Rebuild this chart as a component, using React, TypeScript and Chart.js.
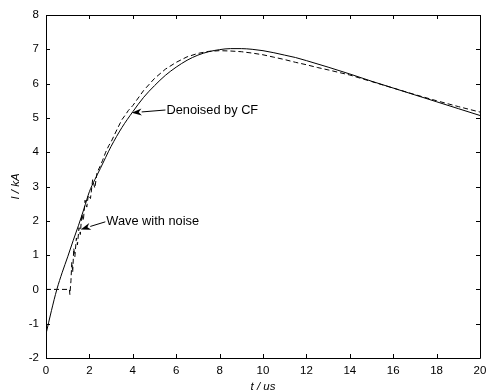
import { useEffect, useRef } from "react";
import { Chart, registerables } from "chart.js";

Chart.register(...registerables);

// Denoised current (solid)
const denoisedT = [0, 0.25, 0.5, 0.75, 1.0, 1.25, 1.5, 1.75, 2.0, 2.25, 2.5, 2.75, 3.0, 3.5, 4.0, 4.5, 5.0, 5.5, 6.0, 6.5, 7.0, 7.5, 8.0, 8.5, 9.0, 9.5, 10, 10.5, 11, 11.5, 12, 13, 14, 15, 16, 17, 18, 19, 20];
const denoisedI = [-1.3, -0.62, 0.0, 0.5, 0.95, 1.42, 1.87, 2.35, 2.85, 3.2, 3.52, 3.85, 4.17, 4.72, 5.18, 5.6, 5.94, 6.24, 6.48, 6.68, 6.83, 6.93, 6.99, 7.02, 7.02, 7.0, 6.96, 6.9, 6.83, 6.76, 6.67, 6.48, 6.28, 6.07, 5.87, 5.67, 5.47, 5.27, 5.07];

// Noisy wave (dashed)
const noisyT = [0, 0.5, 1.0, 1.08, 1.1, 1.15, 1.19, 1.23, 1.28, 1.33, 1.4, 1.45, 1.52, 1.58, 1.65, 1.72, 1.8, 1.88, 1.95, 2.05, 2.15, 2.25, 2.35, 2.5, 2.6, 2.75, 2.9, 3.0, 3.15, 3.3, 3.5, 3.65, 3.8, 4.0, 4.5, 5.0, 5.5, 6.0, 6.5, 7.0, 7.5, 8.0, 8.5, 9.0, 9.5, 10, 10.5, 11, 11.5, 12, 12.5, 13, 14, 15, 16, 17, 18, 19, 20];
const noisyI = [0, 0, 0, 0, -0.15, 0.25, 0.8, 0.5, 1.2, 0.95, 1.5, 1.3, 1.8, 1.6, 2.2, 2.0, 2.6, 2.4, 2.75, 2.65, 3.2, 2.95, 3.4, 3.6, 3.75, 4.0, 4.2, 4.3, 4.5, 4.7, 4.95, 5.08, 5.22, 5.36, 5.8, 6.15, 6.42, 6.62, 6.78, 6.88, 6.94, 6.96, 6.95, 6.93, 6.89, 6.84, 6.77, 6.7, 6.62, 6.55, 6.47, 6.4, 6.25, 6.06, 5.87, 5.68, 5.5, 5.33, 5.17];

// Axis settings
const xMin = 0;
const xMax = 20;
const xStep = 2;
const yMin = -2;
const yMax = 8;
const yStep = 1;
const xTitle = "t / us";
const yTitle = "I / kA";

// Annotations: label, text anchor (data), arrow tip (data)
const annotationLabels = ["Denoised by CF", "Wave with noise"];
const annotationTextT = [5.55, 2.78];
const annotationTextI = [5.23, 1.97];
const annotationTipT = [3.95, 1.6];
const annotationTipI = [5.15, 1.75];

const FONT = "'Liberation Sans', Arial, Helvetica, sans-serif";

const boxPlugin = {
  id: "matlabBox",
  afterDraw(chart: any) {
    const { ctx, chartArea, scales } = chart;
    const { left, right, top, bottom } = chartArea;
    ctx.save();
    ctx.strokeStyle = "#000";
    ctx.lineWidth = 1;
    ctx.setLineDash([]);
    ctx.beginPath();
    ctx.rect(Math.round(left) + 0.5, Math.round(top) + 0.5, Math.round(right - left), Math.round(bottom - top));
    ctx.stroke();
    const tl = 4;
    ctx.beginPath();
    for (const t of scales.x.ticks) {
      const px = Math.round(scales.x.getPixelForValue(t.value)) + 0.5;
      ctx.moveTo(px, bottom);
      ctx.lineTo(px, bottom - tl);
      ctx.moveTo(px, top);
      ctx.lineTo(px, top + tl);
    }
    for (const t of scales.y.ticks) {
      const py = Math.round(scales.y.getPixelForValue(t.value)) + 0.5;
      ctx.moveTo(left, py);
      ctx.lineTo(left + tl, py);
      ctx.moveTo(right, py);
      ctx.lineTo(right - tl, py);
    }
    ctx.stroke();

    // annotations
    ctx.font = `12.8px ${FONT}`;
    ctx.fillStyle = "#000";
    ctx.textAlign = "left";
    ctx.textBaseline = "middle";
    for (let i = 0; i < annotationLabels.length; i++) {
      const tx = scales.x.getPixelForValue(annotationTextT[i]);
      const ty = scales.y.getPixelForValue(annotationTextI[i]);
      const ax = scales.x.getPixelForValue(annotationTipT[i]);
      const ay = scales.y.getPixelForValue(annotationTipI[i]);
      ctx.fillText(annotationLabels[i], tx, ty);
      const sx = tx - 1;
      const sy = ty;
      const ang = Math.atan2(ay - sy, ax - sx);
      const len = 10;
      const hw = 3.5;
      const bx = ax - Math.cos(ang) * len;
      const by = ay - Math.sin(ang) * len;
      ctx.beginPath();
      ctx.moveTo(sx, sy);
      ctx.lineTo(bx, by);
      ctx.stroke();
      const nx = -Math.sin(ang);
      const ny = Math.cos(ang);
      const mx = ax - Math.cos(ang) * len * 0.7;
      const my = ay - Math.sin(ang) * len * 0.7;
      ctx.beginPath();
      ctx.moveTo(ax, ay);
      ctx.lineTo(bx + nx * hw, by + ny * hw);
      ctx.lineTo(mx, my);
      ctx.lineTo(bx - nx * hw, by - ny * hw);
      ctx.closePath();
      ctx.fill();
    }
    ctx.restore();
  },
};

export default function App() {
  const ref = useRef<HTMLCanvasElement | null>(null);
  useEffect(() => {
    if (!ref.current) return;
    const chart = new Chart(ref.current, {
      type: "line",
      data: {
        datasets: [
          {
            label: "Denoised by CF",
            data: denoisedT.map((t, i) => ({ x: t, y: denoisedI[i] })),
            borderColor: "#000",
            borderWidth: 1,
            pointRadius: 0,
            cubicInterpolationMode: "monotone",
            fill: false,
          },
          {
            label: "Wave with noise",
            data: noisyT.map((t, i) => ({ x: t, y: noisyI[i] })),
            borderColor: "#000",
            borderWidth: 1,
            borderDash: [5, 3],
            pointRadius: 0,
            tension: 0,
            fill: false,
          },
        ],
      },
      options: {
        responsive: false,
        animation: false,
        devicePixelRatio: 1,
        layout: { padding: { left: 0, top: 15, right: 6, bottom: 0 } },
        plugins: { legend: { display: false }, tooltip: { enabled: false } },
        scales: {
          x: {
            type: "linear",
            min: xMin,
            max: xMax,
            grid: { display: false, drawTicks: false },
            border: { display: false },
            ticks: {
              stepSize: xStep,
              padding: 6,
              color: "#000",
              maxRotation: 0,
              autoSkip: false,
              font: { family: FONT, size: 11.5 },
            },
            title: {
              display: true,
              text: xTitle,
              color: "#000",
              padding: { top: 0, bottom: -2 },
              font: { family: FONT, size: 11.5, style: "italic" },
            },
            afterFit(scale: any) {
              scale.height = 34;
              scale.paddingLeft = 0;
              scale.paddingRight = 0;
            },
          },
          y: {
            type: "linear",
            min: yMin,
            max: yMax,
            grid: { display: false, drawTicks: false },
            border: { display: false },
            ticks: {
              stepSize: yStep,
              padding: 7,
              color: "#000",
              font: { family: FONT, size: 11.5 },
            },
            title: {
              display: true,
              text: yTitle,
              color: "#000",
              padding: { top: 9, bottom: 0 },
              font: { family: FONT, size: 11.5, style: "italic" },
            },
            afterFit(scale: any) {
              scale.width = 46;
              scale.paddingTop = 0;
              scale.paddingBottom = 0;
            },
          },
        },
      },
      plugins: [boxPlugin],
    } as any);
    return () => chart.destroy();
  }, []);
  return (
    <div style={{ position: "fixed", left: 0, top: 0, width: 486, height: 392, background: "#fff", overflow: "hidden" }}>
      <canvas ref={ref} width={486} height={392} style={{ display: "block" }} />
    </div>
  );
}
